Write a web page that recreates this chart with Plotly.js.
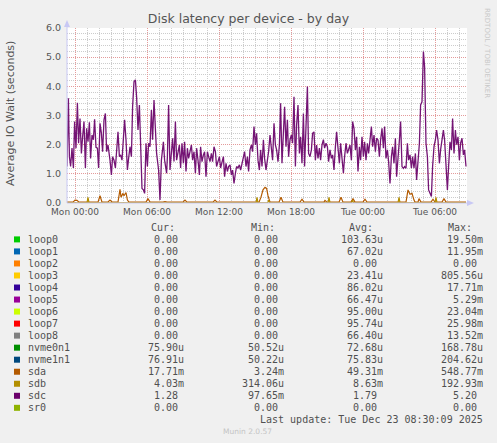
<!DOCTYPE html>
<html>
<head>
<meta charset="utf-8">
<script src="https://cdn.plot.ly/plotly-3.0.1.min.js"></script>
<style>
  html, body { margin: 0; padding: 0; background: #f0f0f0; }
  #chart { width: 497px; height: 443px; }
</style>
</head>
<body>
<div id="chart"></div>
<script>
// time in minutes from Mon 00:00, values in seconds
var sdcTime = [-40,-33,-28,-22,-15,-8,-2,5,12,18,25,32,38,45,52,58,65,72,78,85,92,98,105,112,118,125,132,138,145,152,158,165,175,182,188,195,202,208,215,222,228,235,242,248,255,262,268,275,282,288,295,302,308,315,322,328,335,342,348,355,362,368,375,382,388,395,402,408,418,425,432,442,448,458,462,468,475,482,488,495,502,508,515,522,528,535,542,548,555,562,568,575,582,588,595,602,608,615,622,628,635,642,648,655,662,668,675,682,688,695,702,708,715,722,728,735,742,748,755,762,768,775,782,788,795,802,808,815,822,828,835,842,848,855,862,868,875,882,888,895,902,908,915,922,928,935,942,948,955,962,968,975,982,988,995,1002,1008,1015,1022,1028,1035,1042,1048,1055,1062,1068,1075,1082,1088,1095,1102,1108,1115,1122,1128,1135,1142,1148,1155,1162,1168,1175,1182,1188,1195,1202,1208,1215,1222,1228,1235,1242,1248,1255,1262,1268,1275,1282,1288,1295,1302,1308,1315,1322,1328,1335,1342,1348,1355,1362,1368,1375,1382,1388,1395,1402,1408,1415,1422,1428,1435,1442,1448,1455,1462,1468,1475,1482,1488,1495,1502,1508,1515,1522,1528,1535,1542,1548,1555,1562,1568,1575,1582,1588,1595,1602,1608,1615,1622,1628,1635,1642,1648,1655,1662,1668,1675,1682,1688,1695,1702,1708,1715,1722,1728,1735,1742,1748,1755,1762,1768,1775,1782,1788,1795,1802,1808,1815,1822,1828,1835,1842,1848,1855,1862,1868,1875,1882,1888,1895,1902,1908,1915,1922,1928,1935,1942,1948,1955];
var sdcValue = [1.25,3.59,1.59,1.25,1.88,1.2,2.79,1.88,3.44,2.05,2.9,1.7,2.27,2.79,1.2,2.56,2.1,2.77,1.53,2.33,2.17,2.87,1.91,1.88,1.2,2.73,2.39,1.76,2.85,3.07,1.76,1.99,1.47,0.96,1.59,1.47,1.2,1.82,2.44,1.59,1.65,1.47,2.17,2.85,2.17,1.13,1.53,1.93,1.59,3.3,4.16,4.22,3.64,2.5,3.36,2.27,0.5,0.45,0.33,2.05,1.25,2.05,1.93,3.19,2.17,3.53,2.44,1.7,1.13,0.1,1.47,2.1,1.47,1.02,1.59,3.36,1.13,1.82,2.22,1.42,2.79,1.47,1.7,1.99,1.2,2.05,1.36,2.1,1.08,1.88,1.53,1.82,1.99,1.47,1.76,1.02,1.88,1.47,0.96,1.93,1.42,1.65,1.76,0.9,1.76,1.59,1.42,1.7,1.42,1.93,1.76,1.25,1.47,1.59,1.2,1.36,1.59,0.9,1.36,1.08,1.25,1.31,0.96,1.13,0.67,1.02,1.25,1.2,1.31,1.13,1.36,1.59,1.76,1.25,1.59,1.08,1.82,1.99,1.76,2.62,1.99,2.39,1.47,1.13,1.82,1.25,2.17,1.53,1.13,1.47,1.76,2.33,1.93,1.47,2.73,1.99,1.82,1.42,1.99,3.42,1.36,2.62,3.3,1.93,2.85,1.59,2.17,2.33,2.05,3.64,1.25,2.67,3.36,1.7,2.27,1.36,3.07,1.25,2.62,3.99,1.7,1.59,1.82,2.39,2.44,1.47,1.99,1.53,1.88,1.47,1.99,2.17,1.88,2.05,1.93,1.42,1.82,1.53,1.65,1.13,1.93,2.44,1.88,1.36,2.05,1.47,1.02,1.59,2.05,1.7,1.82,1.99,1.47,2.79,2.56,1.82,2.27,1.08,1.93,1.47,2.27,1.59,2.1,1.47,2.05,1.7,2.16,2.62,1.93,2.33,1.76,2.22,2.16,1.59,2.16,2.56,1.88,2.62,1.53,1.82,1.42,0.67,1.59,1.93,1.36,2.22,0.9,1.76,2.16,2.79,1.25,1.19,1.25,1.19,2.05,1.47,1.65,1.19,1.59,1.19,1.7,0.79,1.47,2.05,3.36,3.47,5.19,4.67,2.05,1.59,0.45,0.33,0.22,1.25,1.93,2.16,2.5,2.16,1.36,1.82,2.16,2.5,2.16,1.3,0.45,1.25,2.1,1.82,2.9,1.7,2.5,2.0,2.27,1.47,2.05,2.22,1.65,1.82,1.25];

var sdaTime = [-40,-10,0,10,20,115,125,135,165,175,185,215,225,230,240,245,255,262,270,355,365,375,440,450,460,540,550,560,690,700,710,920,930,940,950,958,965,975,1020,1030,1040,1125,1135,1145,1245,1250,1260,1320,1330,1340,1380,1390,1400,1440,1450,1460,1655,1665,1675,1685,1695,1700,1715,1720,1730,1780,1790,1800,1835,1845,1855,1955];
var sdaValue = [0.03,0.03,0.1,0.09,0.03,0.03,0.25,0.03,0.04,0.1,0.04,0.03,0.47,0.2,0.33,0.25,0.36,0.1,0.03,0.03,0.15,0.03,0.03,0.05,0.03,0.03,0.1,0.03,0.03,0.1,0.03,0.03,0.2,0.45,0.54,0.5,0.25,0.03,0.03,0.2,0.03,0.03,0.13,0.03,0.03,0.09,0.03,0.03,0.2,0.03,0.03,0.15,0.03,0.03,0.13,0.03,0.03,0.45,0.3,0.33,0.1,0.03,0.03,0.15,0.03,0.03,0.13,0.03,0.03,0.15,0.03,0.03];

var sdbTime = [-40,60,65,70,905,910,915,963,968,973,1265,1270,1275,1383,1388,1393,1615,1620,1625,1800,1805,1810,1955];
var sdbValue = [0.005,0.005,0.19,0.005,0.005,0.19,0.005,0.005,0.1,0.005,0.005,0.19,0.005,0.005,0.1,0.005,0.005,0.19,0.005,0.005,0.19,0.005,0.005];

var tickTimes = [0, 360, 720, 1080, 1440, 1800];
var tickLabels = ['Mon 00:00', 'Mon 06:00', 'Mon 12:00', 'Mon 18:00', 'Tue 00:00', 'Tue 06:00'];

var deviceNames = ['loop0','loop1','loop2','loop3','loop4','loop5','loop6','loop7','loop8','nvme0n1','nvme1n1','sda','sdb','sdc','sr0'];
var deviceColors = ['#00CC00','#0066B3','#FF8000','#FFCC00','#330099','#990099','#CCFF00','#FF0000','#808080','#008F00','#00487D','#B35A00','#B38F00','#6B006B','#8FB300'];
var curValues = ['0.00','0.00','0.00','0.00','0.00','0.00','0.00','0.00','0.00','75.90u','76.91u','17.71m','4.03m','1.28','0.00'];
var minValues = ['0.00','0.00','0.00','0.00','0.00','0.00','0.00','0.00','0.00','50.52u','50.22u','3.24m','314.06u','97.65m','0.00'];
var avgValues = ['103.63u','67.02u','0.00','23.41u','86.02u','66.47u','95.00u','95.74u','66.40u','72.68u','75.83u','49.31m','8.63m','1.79','0.00'];
var maxValues = ['19.50m','11.95m','0.00','805.56u','17.71m','5.29m','23.04m','25.98m','13.52m','168.78u','204.62u','548.77m','192.93m','5.20','0.00'];

// pixel -> paper helpers (plot area is 67..467 x 28..203)
function px(p) { return (p - 67) / 400; }
function py(p) { return (203 - p) / 175; }

var mono = 'DejaVu Sans Mono, monospace';
var sans = 'DejaVu Sans, sans-serif';
var textColor = '#505050';

var data = [
  {
    name: 'sda', x: sdaTime, y: sdaValue, mode: 'lines', type: 'scatter',
    line: { color: '#B35A00', width: 1.2 }, hoverinfo: 'skip',
  },
  {
    name: 'sdb', x: sdbTime, y: sdbValue, mode: 'lines', type: 'scatter',
    line: { color: '#B38F00', width: 1.2 }, hoverinfo: 'skip',
  },
  {
    name: 'sdc', x: sdcTime, y: sdcValue, mode: 'lines', type: 'scatter',
    line: { color: '#741474', width: 1.3 }, hoverinfo: 'skip',
  },
];

var annotations = [];
var shapes = [];

function note(text, x, y, anchor, extra) {
  var a = {
    text: text, xref: 'paper', yref: 'paper', x: px(x), y: py(y),
    xanchor: anchor, yanchor: 'middle', showarrow: false,
    font: { family: mono, size: 10, color: textColor },
  };
  for (var k in extra) { a[k] = extra[k]; }
  annotations.push(a);
}

function cell(v) {
  return /[0-9]$/.test(v) ? v + '\u00A0' : v;
}

// legend table
var headerY = 227.3;
note('Cur:', 148.5, headerY, 'left');
note('Min:', 248.5, headerY, 'left');
note('Avg:', 347, headerY, 'left');
note('Max:', 446, headerY, 'left');

deviceNames.forEach(function(name, i) {
  var rowY = 239.4 + i * 12.03;
  shapes.push({
    type: 'rect', xref: 'paper', yref: 'paper',
    x0: px(14), x1: px(20), y0: py(rowY - 3), y1: py(rowY + 3),
    fillcolor: deviceColors[i], line: { width: 0 },
  });
  note(name, 25.5, rowY, 'left');
  note(cell(curValues[i]), 186, rowY, 'right');
  note(cell(minValues[i]), 286, rowY, 'right');
  note(cell(avgValues[i]), 384.5, rowY, 'right');
  note(cell(maxValues[i]), 484.5, rowY, 'right');
});

note('Last update: Tue Dec 23 08:30:09 2025', 484.5, 419.5, 'right');
note('Munin 2.0.57', 247, 431.5, 'center', { font: { family: sans, size: 7.5, color: '#c4c4c4' } });
note('Average IO Wait (seconds)', 10, 114, 'center', { textangle: -90, font: { family: sans, size: 11, color: '#555' } });
note('RRDTOOL / TOBI OETIKER', 487, 53, 'center', { textangle: 90, font: { family: sans, size: 7, color: '#c8c8c8' } });

// axis lines with arrows
var axisColor = '#c8c8f4';
shapes.push({ type: 'line', xref: 'paper', yref: 'paper', x0: px(67), x1: px(67), y0: py(203), y1: py(24), line: { color: axisColor, width: 1 } });
shapes.push({ type: 'line', xref: 'paper', yref: 'paper', x0: px(67), x1: px(470), y0: py(203), y1: py(203), line: { color: axisColor, width: 1 } });
shapes.push({ type: 'path', xref: 'paper', yref: 'paper',
  path: 'M' + px(64) + ',' + py(27) + ' L' + px(70) + ',' + py(27) + ' L' + px(67) + ',' + py(20) + ' Z',
  fillcolor: axisColor, line: { width: 0 } });
shapes.push({ type: 'path', xref: 'paper', yref: 'paper',
  path: 'M' + px(467) + ',' + py(200) + ' L' + px(467) + ',' + py(206) + ' L' + px(474) + ',' + py(203) + ' Z',
  fillcolor: axisColor, line: { width: 0 } });

var majorGrid = '#e49a9a';
var minorGrid = '#cccccc';

var layout = {
  width: 497,
  height: 443,
  paper_bgcolor: '#f0f0f0',
  plot_bgcolor: '#ffffff',
  margin: { l: 67, r: 30, t: 28, b: 240 },
  showlegend: false,
  title: {
    text: 'Disk latency per device - by day',
    x: 0.5, xref: 'container', xanchor: 'center',
    y: 1 - 19 / 443, yref: 'container', yanchor: 'middle',
    font: { family: sans, size: 12.5, color: '#555' },
  },
  xaxis: {
    range: [-40, 1960],
    tickmode: 'array',
    tickvals: tickTimes,
    ticktext: tickLabels,
    ticks: '',
    ticklabelstandoff: 2,
    showgrid: true,
    gridcolor: majorGrid,
    griddash: '1px,1px',
    zeroline: false,
    showline: false,
    tickfont: { family: sans, size: 9, color: '#555' },
    minor: { tickmode: 'linear', tick0: 0, dtick: 60, showgrid: true, gridcolor: minorGrid, griddash: '1px,1px', ticks: '' },
    fixedrange: true,
  },
  yaxis: {
    range: [0, 6],
    tickmode: 'linear',
    tick0: 0,
    dtick: 1,
    tickformat: '.1f',
    ticks: '',
    ticklabelstandoff: 5,
    showgrid: true,
    gridcolor: majorGrid,
    griddash: '1px,1px',
    zeroline: false,
    showline: false,
    tickfont: { family: sans, size: 9.5, color: '#555' },
    minor: { tickmode: 'linear', tick0: 0, dtick: 0.2, showgrid: true, gridcolor: minorGrid, griddash: '1px,1px', ticks: '' },
    fixedrange: true,
  },
  annotations: annotations,
  shapes: shapes,
};

Plotly.newPlot('chart', data, layout, { displayModeBar: false, staticPlot: true });
</script>
</body>
</html>
